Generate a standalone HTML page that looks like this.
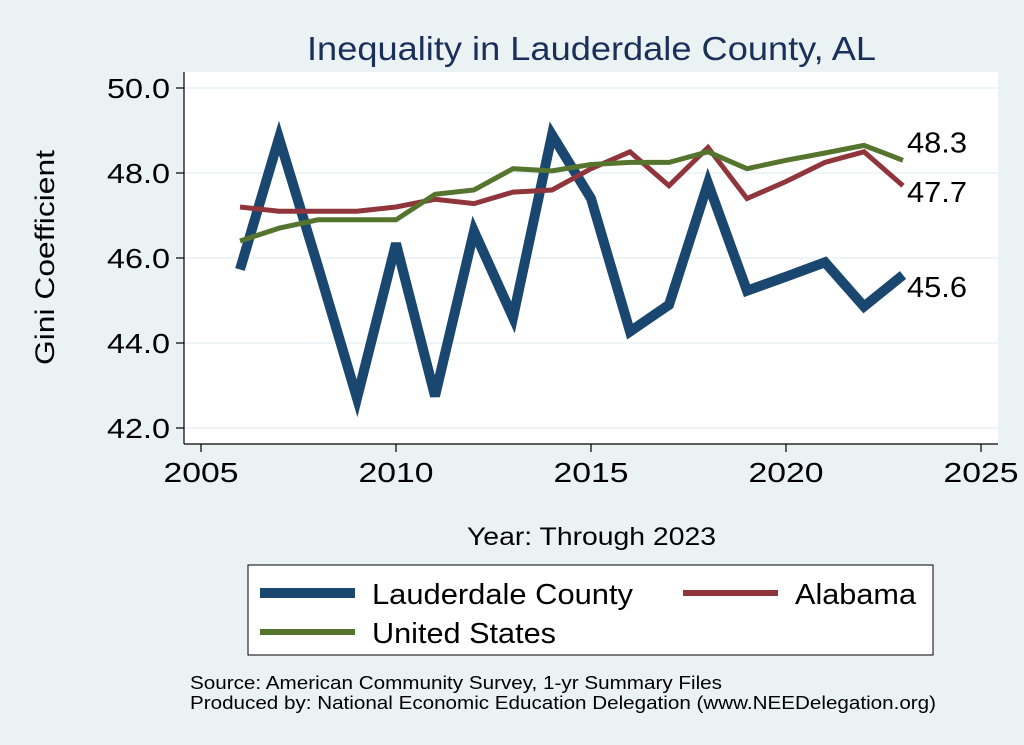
<!DOCTYPE html>
<html><head><meta charset="utf-8"><style>
html,body{margin:0;padding:0;background:#eaf2f3;}
svg{display:block;font-family:"Liberation Sans",sans-serif;}
</style></head><body>
<svg id="chart" width="1024" height="745">
<rect x="0" y="0" width="1024" height="745" fill="#eaf2f3"/>
<rect x="184" y="72" width="814" height="372" fill="#ffffff"/>
<text x="307" y="60" font-size="33" fill="#1a2f5a" textLength="569" lengthAdjust="spacingAndGlyphs">Inequality in Lauderdale County, AL</text>
<text x="0" y="0" font-size="27" fill="#000" textLength="215" lengthAdjust="spacingAndGlyphs" transform="translate(54 365) rotate(-90)">Gini Coefficient</text>
<text x="467" y="545" font-size="25" fill="#000" textLength="249" lengthAdjust="spacingAndGlyphs">Year: Through 2023</text>
<g id="grid"></g><g id="axes"></g><g id="series"></g>
<rect x="248" y="565" width="685" height="90" fill="#fff" stroke="#000" stroke-width="1"/>
<line x1="260" y1="593" x2="355" y2="593" stroke="#1a476f" stroke-width="10"/>
<text x="372" y="604" font-size="29" textLength="261" lengthAdjust="spacingAndGlyphs">Lauderdale County</text>
<line x1="683" y1="593" x2="778" y2="593" stroke="#90353b" stroke-width="6"/>
<text x="795" y="604" font-size="29" textLength="121" lengthAdjust="spacingAndGlyphs">Alabama</text>
<line x1="260" y1="632" x2="355" y2="632" stroke="#55752f" stroke-width="6"/>
<text x="372" y="643" font-size="29" textLength="184" lengthAdjust="spacingAndGlyphs">United States</text>
<text x="190" y="689" font-size="18" textLength="532" lengthAdjust="spacingAndGlyphs">Source: American Community Survey, 1-yr Summary Files</text>
<text x="190" y="709" font-size="18" textLength="746" lengthAdjust="spacingAndGlyphs">Produced by: National Economic Education Delegation (www.NEEDelegation.org)</text>
</svg>
<script>
const years=[2006,2007,2008,2009,2010,2011,2012,2013,2014,2015,2016,2017,2018,2019,2020,2021,2022,2023];
const lauderdale=[45.73,48.82,45.8,42.7,46.34,42.75,46.63,44.6,48.9,47.4,44.27,44.9,47.76,45.23,45.56,45.9,44.86,45.6];
const alabama=[47.2,47.1,47.1,47.1,47.2,47.38,47.28,47.55,47.6,48.1,48.5,47.7,48.6,47.4,47.8,48.25,48.5,47.7];
const unitedStates=[46.4,46.7,46.9,46.9,46.9,47.5,47.6,48.1,48.05,48.2,48.25,48.25,48.5,48.1,48.3,48.47,48.65,48.3];
const xTicks=[2005,2010,2015,2020,2025];
const yTicks=[42,44,46,48,50];
const NS="http://www.w3.org/2000/svg";
function xs(v){return 201+(v-2005)*(591-201)/10;}
function ys(v){return 428-(v-42)*(428-88)/8;}
function mk(tag,attrs,parent){const e=document.createElementNS(NS,tag);for(const k in attrs)e.setAttribute(k,attrs[k]);parent.appendChild(e);return e;}
const grid=document.getElementById('grid'),axes=document.getElementById('axes'),ser=document.getElementById('series');
yTicks.forEach(t=>{
 const g=mk('line',{x1:184,x2:998,y1:ys(t),y2:ys(t),stroke:'#eaf2f3','stroke-width':1.5},grid);
 
 
 const tk=mk('line',{x1:176,x2:184,y1:ys(t),y2:ys(t),stroke:'#000','stroke-width':1.2},axes);
 
 
 const tx=mk('text',{x:107,y:ys(t)+10,'font-size':28,textLength:63,lengthAdjust:'spacingAndGlyphs'},axes);
 tx.textContent=t.toFixed(1);
 
 
});
xTicks.forEach(t=>{
 const tk=mk('line',{x1:xs(t),x2:xs(t),y1:444,y2:452,stroke:'#000','stroke-width':1.2},axes);
 
 
 const tx=mk('text',{x:xs(t)-37.5,y:482,'font-size':28,textLength:75,lengthAdjust:'spacingAndGlyphs'},axes);
 tx.textContent=t;
 
 
});
const ya=mk('line',{x1:184,x2:184,y1:72,y2:444,stroke:'#000','stroke-width':1.2},axes);


const xa=mk('line',{x1:184,x2:998,y1:444,y2:444,stroke:'#000','stroke-width':1.2},axes);


function line(vals,color,w,name,labelDy){
 const d=vals.map((v,i)=>(i?'L':'M')+xs(years[i]).toFixed(1)+' '+ys(v).toFixed(1)).join(' ');
 const p=mk('path',{d:d,fill:'none',stroke:color,'stroke-width':w,'stroke-linejoin':'miter'},ser);
 
 
 const last=vals[vals.length-1];
 const t=mk('text',{x:xs(2023)+4,y:ys(last)+labelDy,'font-size':29,textLength:60,lengthAdjust:'spacingAndGlyphs'},ser);
 t.textContent=last.toFixed(1);
 
 
}
line(lauderdale,'#1a476f',10,'line-lauderdale',22);
line(alabama,'#90353b',5,'line-alabama',16);
line(unitedStates,'#55752f',5,'line-us',-8);
</script>
</body></html>
